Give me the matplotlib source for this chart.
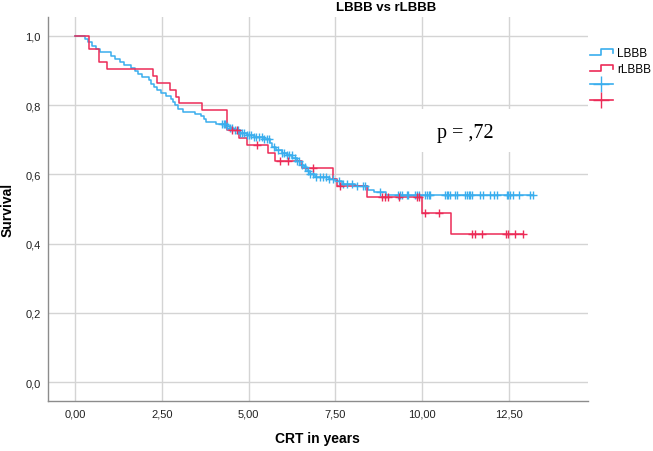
import numpy as np
import matplotlib
matplotlib.use("Agg")
from matplotlib import pyplot as plt
from matplotlib.lines import Line2D
from matplotlib.patches import Rectangle
from matplotlib.legend_handler import HandlerBase

plt.rcParams['font.family'] = ['Liberation Sans', 'DejaVu Sans']

# LBBB: event times (years) and survival after each event
lbbb_t = [0.0, 0.28, 0.38, 0.48, 0.60, 0.72, 1.05, 1.15, 1.30, 1.42, 1.60, 1.72,
          1.82, 1.92, 2.12, 2.20, 2.28, 2.35, 2.48, 2.62, 2.76, 2.82, 2.88, 2.98,
          3.12, 3.45, 3.62, 3.72, 3.78, 4.05, 4.35, 4.45, 4.55, 4.75, 4.95, 5.15,
          5.45, 5.62, 5.68, 5.78, 5.95, 6.10, 6.25, 6.38, 6.48, 6.58, 6.68, 6.78,
          6.90, 7.30, 7.48, 7.70, 8.05, 8.45, 8.60, 8.95]
lbbb_s = [1.0, 0.990, 0.981, 0.971, 0.962, 0.952, 0.943, 0.934, 0.925, 0.916, 0.907, 0.898,
          0.889, 0.880, 0.871, 0.862, 0.853, 0.844, 0.835, 0.826, 0.817, 0.808, 0.799, 0.790,
          0.781, 0.775, 0.769, 0.760, 0.752, 0.746, 0.740, 0.733, 0.727, 0.720, 0.714, 0.708,
          0.702, 0.690, 0.678, 0.670, 0.662, 0.655, 0.647, 0.638, 0.628, 0.620, 0.611, 0.601,
          0.592, 0.586, 0.580, 0.573, 0.565, 0.556, 0.548, 0.540]
lbbb_end = 13.2
lbbb_cens = [4.22, 4.28, 4.33, 4.38, 4.45, 4.52, 4.60, 4.68, 4.75, 4.82, 4.88, 4.95,
             5.02, 5.08, 5.15, 5.22, 5.30, 5.38, 5.45, 5.52, 5.60, 5.72, 5.85, 5.95,
             6.02, 6.10, 6.17, 6.24, 6.32, 6.40, 6.46, 6.55, 6.62, 6.70, 6.78, 6.86,
             6.95, 7.05, 7.14, 7.22, 7.30, 7.42, 7.60, 7.72, 7.82, 7.97, 8.11, 8.30,
             8.35, 8.78, 9.31, 9.36, 9.41, 9.55, 9.60, 9.79, 9.84, 9.89, 10.08, 10.13,
             10.18, 10.22, 10.66, 10.71, 10.75, 10.80, 10.95, 10.99, 11.23, 11.28, 11.33,
             11.38, 11.42, 11.66, 11.76, 11.95, 12.05, 12.14, 12.43, 12.48, 12.52, 12.62,
             12.77, 13.10, 13.18]

# rLBBB
rlbbb_t = [0.0, 0.41, 0.70, 0.93, 2.24, 2.35, 2.74, 2.90, 3.00, 3.66, 4.37, 4.72,
           4.94, 5.57, 5.76, 6.53, 7.42, 7.54, 8.40, 9.99, 10.82]
rlbbb_s = [1.0, 0.962, 0.924, 0.903, 0.884, 0.864, 0.844, 0.823, 0.805, 0.787, 0.727, 0.705,
           0.686, 0.662, 0.639, 0.617, 0.586, 0.567, 0.534, 0.487, 0.4265]
rlbbb_end = 12.9
rlbbb_cens = [4.51, 4.66, 5.23, 5.90, 6.14, 6.84, 7.63, 8.83, 8.93, 9.02, 9.34, 9.84,
              9.89, 10.08, 10.49, 11.43, 11.52, 11.71, 12.41, 12.48, 12.67, 12.89]

xticks = [0, 2.5, 5, 7.5, 10, 12.5]
xticklabels = ['0,00', '2,50', '5,00', '7,50', '10,00', '12,50']
yticks = [0, 0.2, 0.4, 0.6, 0.8, 1.0]
yticklabels = ['0,0', '0,2', '0,4', '0,6', '0,8', '1,0']

blue = '#3aaeee'
red = '#ec2b57'


def surv_at(times, surv, t):
    idx = np.searchsorted(times, t, side='right') - 1
    return np.asarray(surv)[idx]


class StepHandler(HandlerBase):
    def create_artists(self, legend, orig_handle, xdescent, ydescent,
                       width, height, fontsize, trans):
        x0 = -xdescent
        y0 = -ydescent
        xs = [x0, x0 + 0.5 * width, x0 + 0.5 * width, x0 + width, x0 + width]
        ys = [y0 + 0.15 * height, y0 + 0.15 * height, y0 + 0.85 * height,
              y0 + 0.85 * height, y0 + 0.4 * height]
        ln = Line2D(xs, ys, color=orig_handle.get_color(), lw=1.2, transform=trans)
        return [ln]


fig = plt.figure(figsize=(6.53, 4.52), dpi=100)
ax = fig.add_axes([0.073, 0.110, 0.8275, 0.850])

for times, surv, end, cens, col in [(lbbb_t, lbbb_s, lbbb_end, lbbb_cens, blue),
                                    (rlbbb_t, rlbbb_s, rlbbb_end, rlbbb_cens, red)]:
    tt = list(times) + [end]
    ss = list(surv) + [surv[-1]]
    ax.step(tt, ss, where='post', color=col, lw=1.1, zorder=3)
    ax.plot(cens, surv_at(times, surv, cens), ls='none', marker='+',
            markersize=6, markeredgewidth=1.0, color=col, zorder=4)

ax.set_xlim(-0.786, 14.77)
ax.set_ylim(-0.0551, 1.054)
ax.set_xticks(xticks)
ax.set_xticklabels(xticklabels)
ax.set_yticks(yticks)
ax.set_yticklabels(yticklabels)
ax.tick_params(length=0, labelsize=8, colors='#222222')
ax.tick_params(axis='x', pad=5)
ax.tick_params(axis='y', pad=5)
ax.grid(True, color='#d4d4d4', lw=1.0, zorder=0)
ax.set_axisbelow(True)
for s in ['top', 'right']:
    ax.spines[s].set_visible(False)
for s in ['left', 'bottom']:
    ax.spines[s].set_color('#8c8c8c')
    ax.spines[s].set_linewidth(1.0)

# white box behind the p value
ax.add_patch(Rectangle((7.8, 0.664), 7.0, 0.125, facecolor='white',
                       edgecolor='none', zorder=1))
ax.text(11.25, 0.722, 'p = ,72', family=['Liberation Serif', 'DejaVu Serif'],
        fontsize=14.5, ha='center', va='center', zorder=5)

ax.set_xlabel('CRT in years', fontsize=10, fontweight='bold')
ax.set_ylabel('Survival', fontsize=10, fontweight='bold')
ax.xaxis.set_label_coords(0.5, -0.078)
ax.yaxis.set_label_coords(-0.062, 0.5)

fig.text(0.592, 0.982, 'LBBB vs rLBBB', fontsize=9.5, fontweight='bold',
         ha='center', va='center')

handles = [Line2D([], [], color=blue), Line2D([], [], color=red),
           Line2D([], [], color=blue, marker='+', markersize=11, lw=1.2),
           Line2D([], [], color=red, marker='+', markersize=11, lw=1.2)]
labels = ['LBBB', 'rLBBB', '', '']
leg = fig.legend(handles, labels, loc='upper left', bbox_to_anchor=(0.903, 0.894),
                 frameon=False, fontsize=8.5, handlelength=2.0, handletextpad=0.3,
                 labelspacing=0.35, borderaxespad=0, borderpad=0, numpoints=1,
                 handler_map={handles[0]: StepHandler(), handles[1]: StepHandler()})

fig.savefig('out.png', dpi=100)
